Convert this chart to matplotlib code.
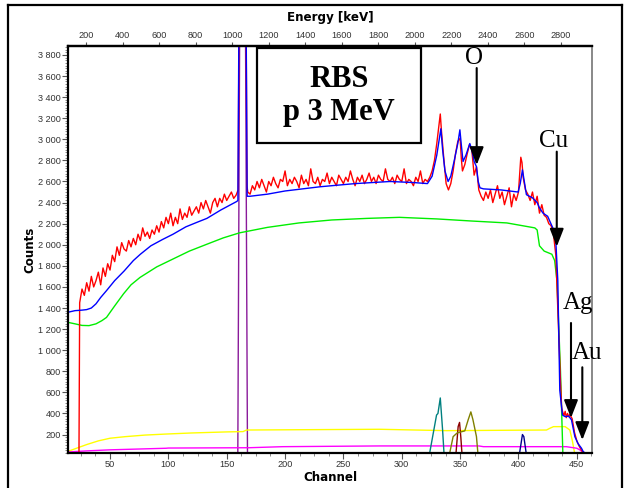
import matplotlib
matplotlib.use("Agg")
import matplotlib.pyplot as plt
import numpy as np
from matplotlib.ticker import MultipleLocator, FuncFormatter
from matplotlib.lines import Line2D
from matplotlib.patches import Rectangle

plt.rcParams['font.family'] = ['Liberation Sans', 'DejaVu Sans']

red_pre_ch = [14, 23.4]
red_pre = [0, 0]
red_a_ch = list(range(24, 160, 2))
red_a = [1450, 1580, 1520, 1640, 1560, 1700, 1600, 1660, 1740, 1620,
         1780, 1700, 1820, 1760, 1900, 1840, 1980, 1900, 2020, 1960,
         1940, 2040, 1980, 2060, 2000, 2100, 2040, 2160, 2080, 2120,
         2060, 2140, 2100, 2180, 2120, 2220, 2160, 2260, 2200, 2300,
         2180, 2260, 2200, 2340, 2240, 2300, 2260, 2360, 2280, 2320,
         2360, 2300, 2400, 2340, 2420, 2360, 2300, 2400, 2440, 2360,
         2440, 2400, 2480, 2420, 2460, 2500, 2440, 2470]
red_spike_ch = [159.8, 163.4, 167.4]
red_spike = [2520, 10400, 2560]
red_b_ch = list(range(168, 324, 2))
red_b = [2500, 2480, 2560, 2520, 2600, 2540, 2620, 2560, 2500, 2600,
         2560, 2640, 2580, 2540, 2620, 2600, 2700, 2560, 2620, 2580,
         2640, 2600, 2540, 2660, 2580, 2620, 2560, 2720, 2600, 2580,
         2640, 2560, 2620, 2600, 2680, 2580, 2640, 2600, 2560, 2660,
         2620, 2580, 2640, 2600, 2700, 2620, 2560, 2640, 2600, 2660,
         2580, 2620, 2680, 2600, 2640, 2580, 2660, 2620, 2600, 2720,
         2620, 2600, 2640, 2580, 2660, 2620, 2600, 2720, 2580, 2620,
         2600, 2560, 2640, 2600, 2700, 2580, 2620, 2600]
red_c_ch = [324, 326, 328, 330, 332, 333, 334, 336, 338, 340, 342, 344,
            346, 348, 350, 351, 352, 354, 356, 358, 360, 362, 364, 366]
red_c = [2640, 2700, 2800, 2960, 3150, 3240, 3080, 2820, 2580, 2520, 2580, 2700,
         2860, 2980, 3010, 2820, 2700, 2760, 2860, 2950, 2900, 2660, 2740, 2520]
red_d_ch = list(range(368, 400, 2))
red_d = [2460, 2420, 2500, 2440, 2520, 2400, 2480, 2560, 2440, 2500,
         2380, 2460, 2540, 2360, 2480, 2420]
red_e_ch = [400, 402, 403, 404, 406, 408, 410, 412, 414, 416,
            418, 420, 422, 424, 426, 428, 430, 432, 434, 436,
            437, 438, 439, 440, 441, 442, 443, 444, 446, 448,
            450, 452, 454, 456, 458]
red_e = [2500, 2830, 2780, 2640, 2520, 2480, 2420, 2500, 2380, 2460,
         2300, 2380, 2280, 2260, 2200, 2180, 2100, 1900, 1300, 700,
         450, 410, 380, 420, 360, 400, 370, 390, 350, 220,
         140, 90, 50, 20, 0]

# ---- simulated total (blue) ----
blue_ch = [14, 20, 26, 30, 34, 38, 42, 47, 54, 62, 70, 76, 85, 95, 104, 115, 125,
           133, 145, 158.5, 159.6, 163.5, 167.5, 170, 185, 200, 230, 260, 290,
           310, 322, 326, 330, 333.5, 335, 337, 339.7, 342, 345, 348, 349.8,
           351, 352.5, 355, 358.3, 360, 362, 364, 365.5, 367, 370, 385, 399.7,
           401.5, 403.4, 405, 406.8, 412, 416, 418, 421, 425, 429.4, 432,
           433.7, 435.4, 437.7, 440, 443, 445.4, 448.3, 451, 454, 455.4, 457]
blue = [1360, 1375, 1380, 1385, 1400, 1440, 1500, 1565, 1660, 1750, 1850, 1910,
        1990, 2050, 2100, 2170, 2215, 2250, 2330, 2410, 2420, 10200, 2460,
        2460, 2480, 2510, 2550, 2580, 2600, 2590, 2580, 2650, 2850, 3100, 2900,
        2700, 2600, 2650, 2800, 2960, 3090, 2950, 2790, 2850, 2960, 2900, 2790,
        2740, 2600, 2540, 2530, 2520, 2500, 2580, 2710, 2600, 2475, 2445, 2400,
        2350, 2300, 2270, 2160, 2035, 1660, 620, 385, 370, 375, 340, 180, 115,
        70, 40, 25]

# ---- element contributions ----
green_ch = [14, 20, 26, 32, 38, 43, 47, 54, 61.6, 68, 75.7, 90, 104, 118, 133,
            147, 161, 185, 212, 240, 270, 298, 330, 360, 390, 414, 416, 418,
            422, 428.6, 431, 433, 436, 438, 440]
green = [1264, 1250, 1235, 1233, 1250, 1280, 1311, 1420, 1535, 1620, 1690,
         1790, 1865, 1940, 2005, 2065, 2113, 2165, 2207, 2235, 2250, 2260,
         2245, 2225, 2207, 2160, 2140, 1990, 1940, 1910, 1850, 1655, 800, 30, 0]

yellow_ch = [14, 20, 30, 40, 50, 63, 80, 98.5, 120, 150, 164, 167, 200, 281,
             338, 380, 424, 427, 430, 440, 444, 446, 448, 450]
yellow = [40, 65, 105, 140, 165, 180, 195, 205, 215, 225, 228, 243, 245, 250,
          237, 240, 243, 260, 275, 275, 243, 150, 30, 0]

magenta_ch = [14, 30, 50, 98, 100, 169, 198, 281, 366, 370, 435, 441, 450,
              452.5, 455, 457]
magenta = [35, 45, 55, 70, 72, 75, 85, 92, 92, 85, 85, 85, 70, 55, 35, 0]

purple_ch = [14, 159.5, 163.5, 167.8, 463]
purple = [0, 0, 10200, 0, 0]

teal_ch = [323.5, 329.8, 331, 333, 335, 336.3]
teal = [0, 385, 400, 547, 240, 0]

maroon_ch = [346.3, 348.3, 349.5, 350.6, 351.7]
maroon = [0, 275, 315, 175, 0]

olive_ch = [340.6, 344, 347.4, 354, 356.9, 359.2, 361, 364, 365.4]
olive = [0, 180, 215, 235, 340, 415, 340, 180, 0]

navy_ch = [400.6, 403.4, 404.6, 406.9]
navy = [0, 200, 180, 0]

red_ch = red_pre_ch + red_a_ch + red_spike_ch + red_b_ch + red_c_ch + red_d_ch + red_e_ch
red = red_pre + red_a + red_spike + red_b + red_c + red_d + red_e

# annotations: label, text position, arrow start, arrow tip (channel, counts)
marks = [('O', (361.6, 3771), (364.2, 3676), (364.2, 2756)),
         ('Cu', (430, 2930), (432.8, 2883), (432.8, 1982)),
         ('Ag', (451, 1388), (445.0, 1258), (445.0, 357)),
         ('Au', (458.7, 914), (454.7, 838), (454.7, 148))]


def ch2e(c):
    return 6.39 * np.asarray(c) + 12


def e2ch(e):
    return (np.asarray(e) - 12) / 6.39


fig = plt.figure(figsize=(6.25, 4.88), dpi=100)
ax = fig.add_axes([68 / 625, 1 - 453 / 488, 524 / 625, 407 / 488])

lw = 1.0
ax.plot(purple_ch, purple, color='#8a1a9a', lw=lw)
ax.plot(yellow_ch, yellow, color='#ffff00', lw=lw)
ax.plot(magenta_ch, magenta, color='#ff00ff', lw=lw)
ax.plot(teal_ch, teal, color='#008080', lw=lw)
ax.plot(maroon_ch, maroon, color='#8b0000', lw=lw)
ax.plot(olive_ch, olive, color='#808000', lw=lw)
ax.plot(navy_ch, navy, color='#00008b', lw=lw)
ax.plot(green_ch, green, color='#00ee00', lw=lw)
ax.plot(red_ch, red, color='#ff0000', lw=lw)
ax.plot(blue_ch, blue, color='#0000ff', lw=lw)

ax.set_xlim(14, 463)
ax.set_ylim(25, 3885)

ax.xaxis.set_major_locator(MultipleLocator(50))
ax.xaxis.set_minor_locator(MultipleLocator(12.5))
ax.yaxis.set_minor_locator(MultipleLocator(25))
ax.set_yticks(np.arange(200, 3801, 200))
ax.yaxis.set_major_formatter(FuncFormatter(lambda v, p: f"{v:,.0f}".replace(',', ' ')))
ax.tick_params(axis='both', which='major', labelsize=6.6, length=4, width=0.8,
               color='#555555', labelcolor='#333333', pad=1)
ax.tick_params(axis='both', which='minor', length=2, width=0.6, color='#777777')
ax.tick_params(top=False, right=False, which='both')

for s in ['left', 'bottom', 'top']:
    ax.spines[s].set_linewidth(1.6)
    ax.spines[s].set_color('black')
ax.spines['right'].set_linewidth(1.4)
ax.spines['right'].set_color('#888888')

lab_font = dict(family='DejaVu Sans', fontsize=8.6, weight='bold')
ax.set_ylabel('Counts', **lab_font)
ax.yaxis.set_label_coords(-0.06, 0.5)
ax.set_xlabel('Channel', **lab_font)
ax.xaxis.set_label_coords(0.5, -0.044)

secax = ax.secondary_xaxis('top', functions=(ch2e, e2ch))
secax.set_xticks(np.arange(200, 2801, 200))
secax.tick_params(labelsize=6.6, length=3, width=0.8, color='#555555',
                  labelcolor='#333333', pad=1)
secax.spines['top'].set_linewidth(1.6)
fig.text(330 / 625, 1 - 17 / 488, 'Energy [keV]', ha='center', va='center', **lab_font)

# title box
fig.patches.append(Rectangle((257 / 625, 1 - 143 / 488), 164 / 625, 95 / 488,
                             transform=fig.transFigure, fill=True, facecolor='white',
                             edgecolor='black', lw=1.6, zorder=5))
fig.text(339 / 625, 1 - 86.7 / 488, 'RBS', ha='center', va='baseline',
         family='Liberation Serif', weight='bold', fontsize=22, zorder=6)
fig.text(339 / 625, 1 - 120 / 488, 'p 3 MeV', ha='center', va='baseline',
         family='Liberation Serif', weight='bold', fontsize=22, zorder=6)

for lab, tpos, start, tip in marks:
    va = 'center' if lab == 'O' else 'baseline'
    ax.text(tpos[0], tpos[1], lab, ha='center', va=va, family='Liberation Serif',
            fontsize=18, clip_on=False)
    ax.annotate('', xy=tip, xytext=start, annotation_clip=False,
                arrowprops=dict(arrowstyle='-|>,head_length=0.9,head_width=0.35',
                                mutation_scale=12, lw=1.5, color='black',
                                shrinkA=0, shrinkB=0))

# outer frame
for xs, ys in [((7.5, 7.5), (0, 4.7)), ((7.5, 621.5), (4.7, 4.7)), ((621.5, 621.5), (4.7, 0))]:
    fig.add_artist(Line2D([x / 625 for x in xs], [1 - y / 488 if y > 0 else 0 for y in ys],
                          transform=fig.transFigure, color='black', lw=1.6))

fig.savefig('out.png', dpi=100)
